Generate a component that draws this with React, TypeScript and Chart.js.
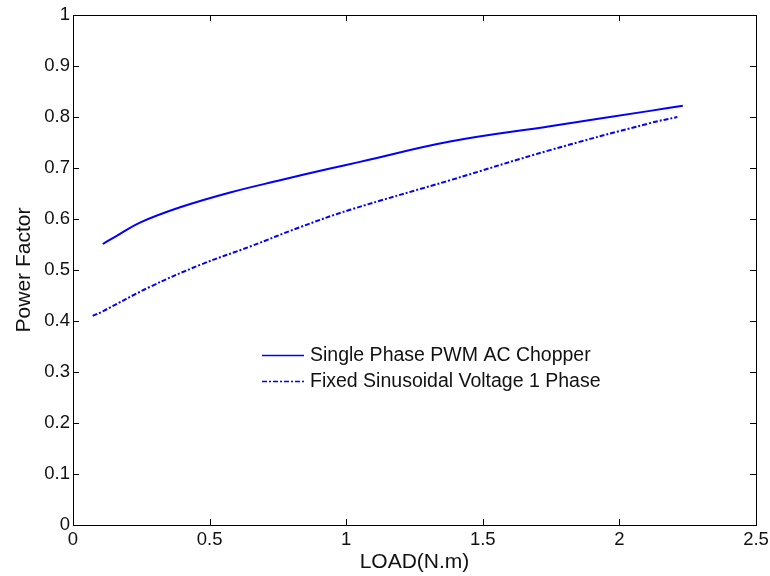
import React, { useEffect, useRef } from "react";
import { Chart, registerables } from "chart.js";

Chart.register(...registerables);

// Single Phase PWM AC Chopper
const pwmLoad = [0.109, 0.16, 0.245, 0.392, 0.575, 0.758, 0.941, 1.05, 1.38, 1.746, 2.112, 2.232];
const pwmPF = [0.551, 0.567, 0.593, 0.623, 0.652, 0.676, 0.699, 0.712, 0.752, 0.782, 0.812, 0.822];

// Fixed Sinusoidal Voltage 1 Phase
const fixedLoad = [0.072, 0.105, 0.282, 0.465, 0.648, 0.831, 1.014, 1.38, 1.746, 2.112, 2.212];
const fixedPF = [0.41, 0.418, 0.467, 0.51, 0.546, 0.584, 0.618, 0.676, 0.735, 0.788, 0.8];

const xTicks = [0, 0.5, 1, 1.5, 2, 2.5];
const yTicks = [0, 0.1, 0.2, 0.3, 0.4, 0.5, 0.6, 0.7, 0.8, 0.9, 1];

const seriesLabels = ["Single Phase PWM AC Chopper", "Fixed Sinusoidal Voltage 1 Phase"];

const FONT = "'Liberation Sans', Arial, sans-serif";
const TEXT = "#111";

const framePlugin = {
  id: "matlabFrame",
  afterDraw(chart: any) {
    const { ctx, chartArea, scales } = chart;
    const { left, right, top, bottom } = chartArea;
    const xs = scales.x;
    const ys = scales.y;
    ctx.save();
    ctx.strokeStyle = "#000";
    ctx.lineWidth = 1;
    ctx.strokeRect(Math.round(left) + 0.5, Math.round(top) + 0.5, Math.round(right - left), Math.round(bottom - top));
    ctx.beginPath();
    const tl = 6;
    xs.ticks.forEach((t: any) => {
      const px = Math.round(xs.getPixelForValue(t.value)) + 0.5;
      ctx.moveTo(px, bottom);
      ctx.lineTo(px, bottom - tl);
      ctx.moveTo(px, top);
      ctx.lineTo(px, top + tl);
    });
    ys.ticks.forEach((t: any) => {
      const py = Math.round(ys.getPixelForValue(t.value)) + 0.5;
      ctx.moveTo(left, py);
      ctx.lineTo(left + tl, py);
      ctx.moveTo(right, py);
      ctx.lineTo(right - tl, py);
    });
    ctx.stroke();

    // legend (MATLAB-style, no box)
    const lx0 = 262;
    const lx1 = 304;
    const rows = [355, 381];
    chart.data.datasets.forEach((ds: any, i: number) => {
      const yy = rows[i] + 0.5;
      ctx.beginPath();
      ctx.strokeStyle = ds.borderColor;
      ctx.lineWidth = 1.5;
      ctx.setLineDash(ds.borderDash || []);
      ctx.moveTo(lx0, yy);
      ctx.lineTo(lx1, yy);
      ctx.stroke();
      ctx.setLineDash([]);
      ctx.fillStyle = TEXT;
      ctx.font = `19.5px ${FONT}`;
      ctx.textBaseline = "middle";
      ctx.textAlign = "left";
      ctx.fillText(ds.label, 310, rows[i] + 1);
    });
    ctx.restore();
  },
};

export default function App() {
  const canvasRef = useRef<HTMLCanvasElement | null>(null);

  useEffect(() => {
    const canvas = canvasRef.current;
    if (!canvas) return;
    const chart = new Chart(canvas, {
      type: "scatter",
      data: {
        datasets: [
          {
            label: seriesLabels[0],
            data: pwmLoad.map((x, i) => ({ x, y: pwmPF[i] })),
            showLine: true,
            borderColor: "#0000ff",
            borderWidth: 2,
            pointRadius: 0,
            tension: 0.4,
          },
          {
            label: seriesLabels[1],
            data: fixedLoad.map((x, i) => ({ x, y: fixedPF[i] })),
            showLine: true,
            borderColor: "#0000ff",
            borderWidth: 2,
            borderDash: [5, 2, 2, 2],
            pointRadius: 0,
            tension: 0.4,
          },
        ],
      },
      options: {
        responsive: false,
        animation: false,
        devicePixelRatio: 1,
        layout: { padding: { left: 0, top: 15, right: 14, bottom: 0 } },
        plugins: {
          legend: { display: false },
          tooltip: { enabled: false },
        },
        scales: {
          x: {
            type: "linear",
            min: 0,
            max: 2.5,
            afterBuildTicks: (scale: any) => {
              scale.ticks = xTicks.map((v) => ({ value: v }));
            },
            afterFit: (scale: any) => {
              scale.height = 51;
              scale.paddingLeft = 0;
              scale.paddingRight = 0;
            },
            ticks: {
              autoSkip: false,
              maxRotation: 0,
              padding: 6,
              color: TEXT,
              font: { family: FONT, size: 18.5, lineHeight: 1 },
              callback: (v: any) => String(v),
            },
            grid: { display: false, drawTicks: false },
            border: { display: false },
            title: {
              display: true,
              text: "LOAD(N.m)",
              color: TEXT,
              font: { family: FONT, size: 21, lineHeight: 1 },
              padding: { top: 0, bottom: 3 },
            },
          },
          y: {
            type: "linear",
            min: 0,
            max: 1,
            afterBuildTicks: (scale: any) => {
              scale.ticks = yTicks.map((v) => ({ value: v }));
            },
            afterFit: (scale: any) => {
              scale.width = 73;
              scale.paddingTop = 0;
              scale.paddingBottom = 0;
            },
            ticks: {
              autoSkip: false,
              padding: 3,
              color: TEXT,
              font: { family: FONT, size: 18.5, lineHeight: 1 },
              callback: (v: any) => String(v),
            },
            grid: { display: false, drawTicks: false },
            border: { display: false },
            title: {
              display: true,
              text: "Power Factor",
              color: TEXT,
              font: { family: FONT, size: 21, lineHeight: 1 },
              padding: { top: 14, bottom: 0 },
            },
          },
        },
      },
      plugins: [framePlugin],
    } as any);
    return () => chart.destroy();
  }, []);

  return (
    <div style={{ position: "absolute", left: 0, top: 0, width: 770, height: 576, background: "#fff" }}>
      <canvas ref={canvasRef} width={770} height={576} style={{ display: "block" }} />
    </div>
  );
}
